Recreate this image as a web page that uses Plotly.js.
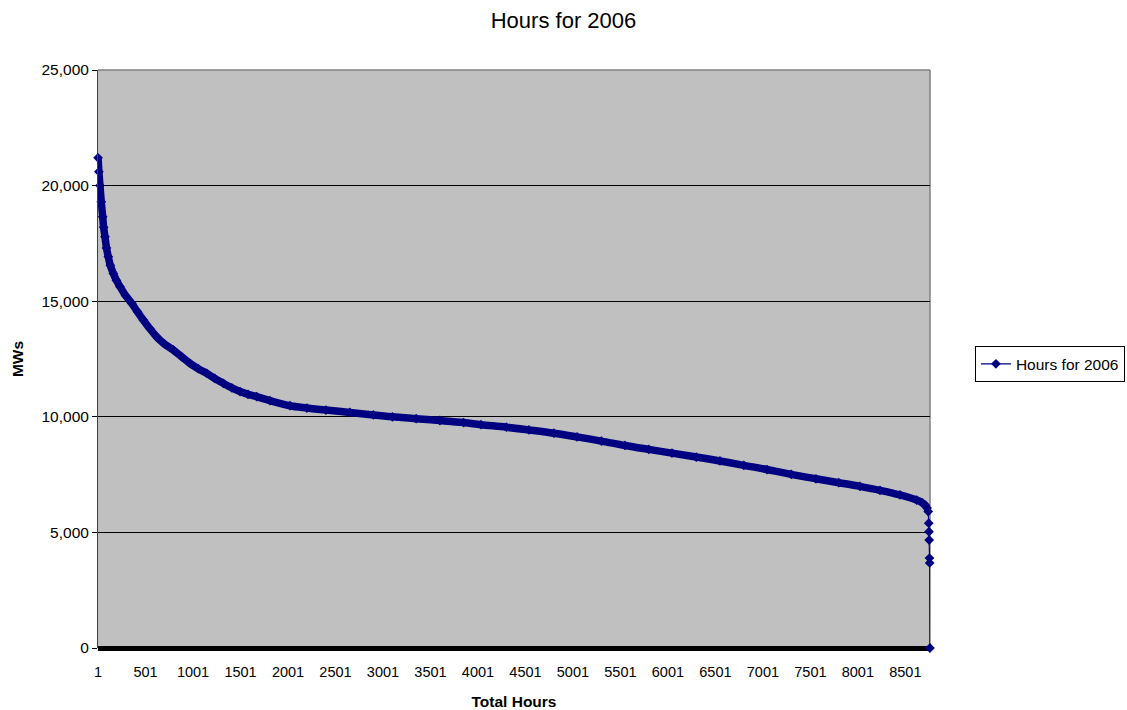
<!DOCTYPE html>
<html>
<head>
<meta charset="utf-8">
<script src="https://cdn.plot.ly/plotly-3.0.1.min.js"></script>
<style>html,body{margin:0;padding:0;background:#fff;}#chart{width:1127px;height:710px;}</style>
</head>
<body>
<div id="chart"></div>
<script>
// Load duration curve readings (hour rank, MW)
var hours = [1, 10, 21, 35, 50, 60, 74, 90, 109, 130, 162, 195, 232, 290, 355, 415, 477, 545, 618, 700, 793, 880, 969, 1055, 1145, 1230, 1320, 1410, 1496, 1580, 1672, 1811, 2022, 2200, 2400, 2653, 2900, 3100, 3350, 3600, 3850, 4033, 4300, 4538, 4800, 5044, 5300, 5549, 5800, 6044, 6300, 6549, 6800, 7044, 7300, 7560, 7800, 8023, 8234, 8444, 8620, 8680, 8707, 8730, 8742, 8747, 8750, 8752, 8755, 8757, 8760];
var mws = [21200, 20600, 20000, 19300, 18650, 18200, 17790, 17300, 16920, 16550, 16200, 15900, 15630, 15250, 14910, 14550, 14190, 13820, 13460, 13150, 12890, 12600, 12310, 12080, 11880, 11660, 11450, 11250, 11090, 10970, 10870, 10700, 10480, 10380, 10290, 10190, 10080, 10000, 9920, 9840, 9750, 9660, 9550, 9430, 9290, 9130, 8950, 8760, 8590, 8430, 8260, 8090, 7900, 7720, 7510, 7320, 7150, 6990, 6820, 6620, 6400, 6280, 6180, 6050, 5900, 5400, 5030, 4670, 3890, 3680, 0];
var tickHours = [1, 501, 1001, 1501, 2001, 2501, 3001, 3501, 4001, 4501, 5001, 5501, 6001, 6501, 7001, 7501, 8001, 8501];
var tickLabels = tickHours.map(String);
var seriesName = "Hours for 2006";

// dense band portion (all but the final sharp drop)
var bandN = 65;
var traces = [
  {x: hours.slice(0, bandN), y: mws.slice(0, bandN), type: "scatter", mode: "lines",
   line: {color: "#000080", width: 7.5, shape: "spline"}, showlegend: false, hoverinfo: "skip"},
  {x: hours, y: mws, type: "scatter", mode: "lines+markers", name: seriesName,
   line: {color: "#000080", width: 1.2},
   marker: {symbol: "diamond", size: 7.5, color: "#000080"}, cliponaxis: false}
];

var font = "Liberation Sans, Arial, sans-serif";
var layout = {
  width: 1127, height: 710,
  margin: {l: 98, r: 197, t: 70, b: 62, autoexpand: false},
  paper_bgcolor: "#ffffff",
  plot_bgcolor: "#c0c0c0",
  font: {family: font, size: 15, color: "#000"},
  title: {text: "Hours for 2006", font: {family: font, size: 22, color: "#000"}, x: 0.5, xanchor: "center", y: 0.971, yanchor: "middle"},
  xaxis: {
    range: [0.5, 8760.5], tickvals: tickHours, ticktext: tickLabels,
    showgrid: false, zeroline: false, showline: false, ticks: "", ticklabelstandoff: 13,
    tickfont: {family: font, size: 14.5},
    title: {text: "<b>Total Hours</b>", font: {family: font, size: 15.5}, standoff: 17}
  },
  yaxis: {
    range: [0, 25000], tickvals: [0, 5000, 10000, 15000, 20000, 25000],
    ticktext: ["0", "5,000", "10,000", "15,000", "20,000", "25,000"],
    showgrid: true, gridcolor: "#000000", gridwidth: 1,
    zeroline: true, zerolinecolor: "#000000", zerolinewidth: 5,
    showline: true, linecolor: "#404040", linewidth: 1,
    ticks: "outside", ticklen: 5, tickcolor: "#000",
    tickfont: {family: font, size: 15.5},
    title: {text: "<b>MWs</b>", font: {family: font, size: 15.5}, standoff: 14}
  },
  shapes: [
    {type: "line", xref: "paper", yref: "paper", x0: 0, x1: 1, y0: 1, y1: 1, line: {color: "#808080", width: 1.5}, layer: "below"},
    {type: "line", xref: "paper", yref: "paper", x0: 1, x1: 1, y0: 0, y1: 1, line: {color: "#808080", width: 1.5}, layer: "below"}
  ],
  legend: {
    x: 1.054, xanchor: "left", y: 0.491, yanchor: "middle",
    bgcolor: "#ffffff", bordercolor: "#000000", borderwidth: 1,
    font: {family: font, size: 15.5}, itemwidth: 30, tracegroupgap: 0
  },
  showlegend: true
};

Plotly.newPlot("chart", traces, layout, {displayModeBar: false, staticPlot: true});
</script>
</body>
</html>
